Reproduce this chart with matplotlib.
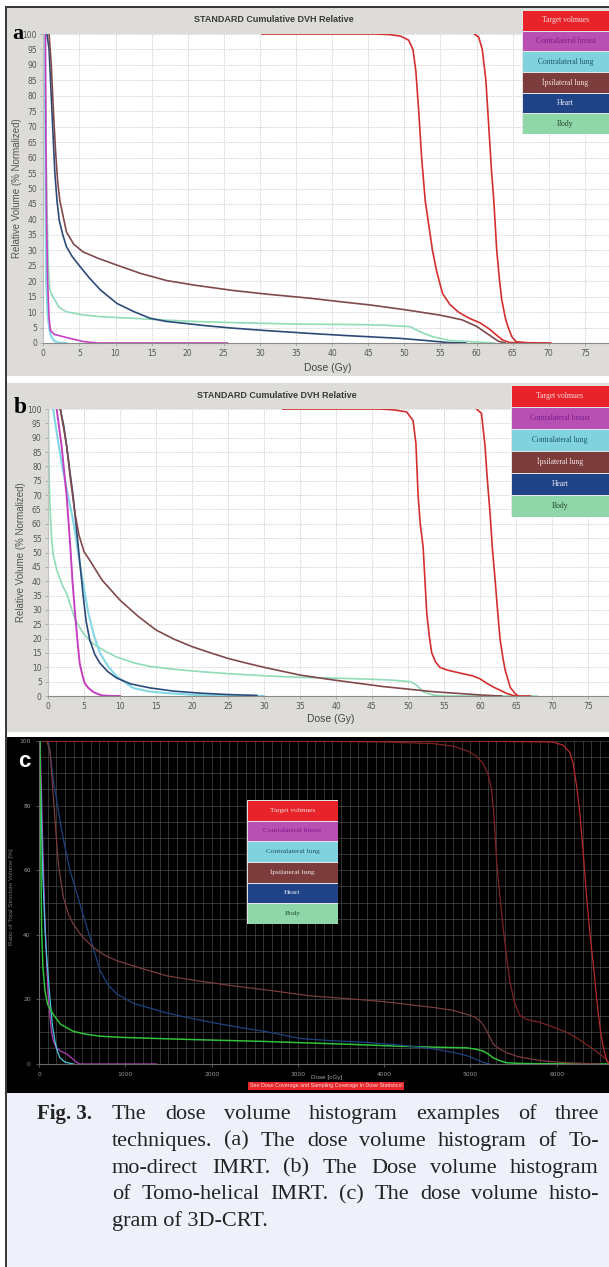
import matplotlib
matplotlib.use("Agg")
import matplotlib.pyplot as plt
import numpy as np
from matplotlib.patches import Rectangle

W, H = 609, 1267

# ---- legend ----
legend_labels = ["Target volmues", "Contralateral breast", "Contralateral lung",
                 "İpsilateral lung", "Heart", "Body"]
legend_bg = ["#e8232a", "#b84fb2", "#80d3de", "#7c3c3c", "#1f4386", "#8fd6a9"]
legend_fg = ["#f4dede", "#7a1d8a", "#1b5865", "#f2e4e4", "#eef0f8", "#264a2c"]

# ---- panel a: Tomo-direct IMRT (Gy, %) ----
a_target1_x = [30.3, 40, 46, 48, 49.5, 50.6, 51.2, 51.6, 52.0, 52.4, 52.9, 53.4, 53.9, 54.5,
               55.3, 56.3, 57.5, 59.0, 60.5, 61.8, 62.8, 63.6, 64.5, 66]
a_target1_y = [100, 100, 100, 99.8, 99.3, 98, 95, 88, 75, 60, 46, 38, 30, 23,
               16, 12.5, 10, 8, 6.5, 4.5, 2.5, 1, 0.2, 0]
a_target2_x = [59.7, 60.3, 60.8, 61.3, 61.7, 62.1, 62.4, 62.8, 63.2, 63.5, 64.0, 64.4,
               64.9, 65.5, 67, 70.3]
a_target2_y = [100, 99, 95, 85, 70, 55, 46, 30, 20, 14, 8, 5, 2, 0.4, 0.1, 0]
a_breast_x = [0.3, 0.35, 0.45, 0.6, 0.8, 1.0, 1.5, 2.5, 3.5, 4.6, 5.5, 6.5, 7.6, 25.5]
a_breast_y = [100, 70, 40, 20, 8, 4, 2.8, 2.2, 1.6, 1.0, 0.5, 0.2, 0, 0]
a_clung_x = [0.2, 0.25, 0.3, 0.4, 0.6, 0.85, 1.1, 1.6, 2.2, 3.2]
a_clung_y = [100, 80, 50, 20, 9, 4.2, 2, 0.5, 0.1, 0]
a_ilung_x = [0.8, 1.1, 1.4, 1.7, 2.0, 2.3, 3.2, 4.2, 5.5, 7.5, 10.2, 13.5, 17.1, 21, 26.3,
             31, 36.9, 41, 45.3, 50, 55, 58, 60, 61, 62, 63, 64]
a_ilung_y = [100, 90, 75, 62, 52, 46, 36, 32, 29.5, 27.5, 25.2, 22.5, 20.2, 18.7, 17.0,
             15.8, 14.5, 13.4, 12.3, 10.8, 9.0, 7.5, 5.4, 3.8, 2.2, 0.6, 0]
a_heart_x = [0.5, 0.8, 1.0, 1.3, 1.6, 1.9, 2.2, 2.7, 3.2, 4.0, 5.1, 6.4, 7.9, 10.2, 12.5,
             14.8, 17, 19.4, 22.5, 26.3, 31, 36.9, 42, 49.4, 53, 56.3, 58.5]
a_heart_y = [100, 95, 85, 70, 55, 46, 39.8, 35, 31.2, 28, 24.7, 21, 17.2, 12.8, 10.2,
             8.0, 7.0, 6.4, 5.6, 4.8, 4.0, 3.1, 2.4, 1.5, 0.8, 0.1, 0]
a_body_x = [0.2, 0.3, 0.5, 0.7, 0.9, 1.2, 1.6, 2.2, 3.2, 5.5, 8, 12.4, 17, 21.7, 28, 35.6,
            42, 47, 50.8, 51.7, 52.8, 54, 56.3, 60.9, 62.5]
a_body_y = [100, 80, 45, 25, 17.2, 15.5, 13.9, 11.5, 10.1, 9.1, 8.5, 8.0, 7.4, 6.9, 6.5, 6.1,
            6.0, 5.8, 5.3, 4.2, 3.0, 2.0, 0.8, 0.2, 0]

# ---- panel b: Tomo-helical IMRT (Gy, %) ----
b_target1_x = [32.6, 40, 46.1, 48, 49.8, 50.7, 51.1, 51.4, 51.7, 52.1, 52.6, 53.0, 53.3, 53.8,
               54.4, 55.5, 57.2, 59, 60, 60.9, 61.8, 62.8, 63.8, 64.6, 65]
b_target1_y = [100, 100, 100, 99.7, 99, 96, 88, 70, 60, 52, 29, 20, 15, 12,
               10, 9, 8, 7, 6, 4.5, 3.2, 2, 0.8, 0.2, 0]
b_target2_x = [59.5, 60.2, 60.7, 61.0, 61.4, 61.7, 62.1, 62.5, 62.8, 63.2, 63.5, 64.2, 64.9,
               65.3, 67]
b_target2_y = [100, 98.5, 87, 76, 63.6, 52, 40.4, 28, 19.5, 13, 9, 3, 0.8, 0, 0]
b_breast_x = [1.2, 1.9, 2.6, 3.1, 3.4, 3.75, 4.1, 4.4, 4.8, 5.1, 5.6, 6.3, 7.0, 7.6, 8.5, 10]
b_breast_y = [100, 86.9, 69.4, 52, 40, 28.9, 19, 11.5, 7, 4.5, 2.8, 1.4, 0.6, 0.2, 0.05, 0]
b_clung_x = [0.7, 1.2, 1.9, 2.6, 3.3, 3.9, 4.4, 5.0, 5.6, 6.4, 7.2, 8.3, 9.5, 11.8, 14, 16.5,
             21, 26, 30]
b_clung_y = [100, 92, 81, 72, 63.6, 55, 46.2, 37.5, 28.9, 21, 15, 10.5, 6.9, 2.8, 1.6, 1.0,
             0.3, 0.1, 0]
b_ilung_x = [1.7, 2.2, 2.6, 3.1, 3.75, 4.3, 5.0, 6.0, 7.5, 10, 12.5, 15, 17.5, 20, 22.5, 25,
             27.5, 30, 35, 39.6, 46.5, 53.5, 60.4, 63]
b_ilung_y = [100, 93, 86.9, 76, 63.6, 56, 50.3, 46.5, 40.4, 33.4, 27.8, 23, 19.8, 17.2, 15.1,
             13.1, 11.5, 10.0, 7.3, 5.6, 3.3, 1.5, 0.3, 0]
b_heart_x = [1.7, 2.2, 2.6, 3.0, 3.5, 4.2, 4.9, 5.3, 5.8, 6.5, 7.2, 8.3, 9.5, 11.5, 14.2,
             17.5, 21.1, 25, 29]
b_heart_y = [100, 94, 86.9, 79, 69.4, 52, 34.6, 26, 19.5, 14.5, 11.5, 8.5, 6.3, 4.2, 2.8,
             1.7, 1.0, 0.5, 0.2]
b_body_x = [0.05, 0.1, 0.2, 0.35, 0.5, 0.7, 1.2, 2.0, 2.6, 3.2, 3.8, 5.0, 6.2, 7.8, 9.5, 12,
            14.2, 17.5, 21.1, 25.5, 30.4, 35, 40, 44.3, 48, 50.3, 51.2, 52.1, 53.5, 55.7, 67.9]
b_body_y = [100, 85, 72, 62, 55, 49.6, 44, 38.5, 35.7, 31, 26.4, 21.5, 18.3, 15.8, 13.6, 11.5,
            10.3, 9.3, 8.5, 7.7, 7.0, 6.5, 6.2, 5.9, 5.5, 5.0, 3.8, 1.5, 0.3, 0, 0]

# ---- panel c: 3D-CRT (cGy, %) ----
c_target1_x = [50, 1000, 2000, 3000, 4000, 4566, 4800, 4956, 5060, 5146, 5200, 5245, 5275,
               5303, 5340, 5380, 5420, 5458, 5510, 5574, 5650, 5805, 5950, 6114, 6220, 6307,
               6400, 6500, 6560, 6600]
c_target1_y = [100, 100, 100, 100, 99.7, 99.2, 98.4, 97, 95.5, 93, 90, 85, 76,
               62.5, 52, 41.8, 33, 25.3, 19, 15, 13.8, 12.9, 11.5, 9.8, 8.3, 6.7,
               5, 3.1, 1.8, 0.5]
c_target2_x = [50, 1000, 3000, 5000, 5956, 6074, 6150, 6190, 6230, 6268, 6310, 6346, 6385,
               6423, 6455, 6481, 6510, 6539, 6578, 6600]
c_target2_y = [100, 100, 100, 100, 99.7, 98.7, 96.5, 93, 86, 77.4, 64, 51.6, 40,
               31, 22, 15.5, 9.5, 5.2, 1, 0.2]
c_breast_x = [12, 25, 40, 50, 65, 89, 105, 127, 145, 166, 200, 250, 321, 380, 437, 475, 1364]
c_breast_y = [100, 88, 72, 62, 48, 31, 22, 14.5, 10, 7.2, 5, 4, 3.1, 1.8, 0.5, 0, 0]
c_clung_x = [4, 20, 31, 45, 60, 70, 90, 110, 127, 155, 185, 215, 243, 300, 397]
c_clung_y = [100, 85, 72, 58, 48, 41, 33, 26, 20.4, 12, 7, 3.8, 1.9, 0.6, 0]
c_ilung_x = [89, 127, 166, 195, 224, 282, 340, 397, 500, 629, 760, 900, 1200, 1480, 1850,
             2251, 2700, 3140, 3600, 4000, 4570, 4800, 4956, 5050, 5110, 5150, 5188, 5230,
             5265, 5340, 5419, 5550, 5728, 5900, 6114, 6300, 6500]
c_ilung_y = [100, 97, 82.6, 72, 61.9, 51.6, 46.5, 43.3, 39.5, 36.1, 33.7, 32, 29.5, 27.3, 25.7,
             24.2, 22.7, 21.1, 20.2, 19.3, 17.5, 16.6, 15.4, 14.5, 13.3, 12, 10.2, 8,
             6.1, 4.6, 3.5, 2.3, 1.4, 0.8, 0.4, 0.2, 0]
c_heart_x = [108, 135, 166, 215, 263, 310, 359, 420, 475, 530, 591, 650, 707, 800, 900, 1093,
             1300, 1480, 1750, 2059, 2350, 2638, 3024, 3400, 3797, 4200, 4570, 4800, 4956,
             5050, 5146, 5223]
c_heart_y = [100, 95, 87.8, 80, 72.3, 66, 59.9, 54.5, 49.5, 44.5, 39.2, 34, 28.9, 24.5, 21.7,
             18.8, 17.2, 15.8, 14.2, 12.6, 11.2, 10.0, 7.9, 7.2, 6.7, 5.8, 4.7, 3.6, 2.6,
             1.6, 0.5, 0]
c_body_x = [12, 19, 25, 31, 45, 70, 100, 166, 250, 397, 550, 707, 1000, 1480, 2000, 2600,
            3140, 3600, 4183, 4600, 4956, 5060, 5148, 5210, 5265, 5340, 5419, 5550, 5728, 6600]
c_body_y = [100, 72, 55, 41, 30, 22.5, 18.5, 15.3, 12.3, 10.1, 9.2, 8.6, 8.2, 7.8, 7.4, 7.0,
            6.5, 6.1, 5.5, 5.2, 5.0, 4.6, 4.0, 3.0, 1.9, 1.0, 0.4, 0.2, 0.1, 0]

caption_lines = ["The dose volume histogram examples of three",
                 "techniques. (a) The dose volume histogram of To-",
                 "mo-direct IMRT. (b) The Dose volume histogram",
                 "of Tomo-helical IMRT. (c) The dose volume histo-",
                 "gram of 3D-CRT."]

SERIF = "Liberation Serif"
SANS = "Liberation Sans"

fig = plt.figure(figsize=(W / 100, H / 100), dpi=100)


def box(x0, y0, x1, y1):
    return [x0 / W, 1 - y1 / H, (x1 - x0) / W, (y1 - y0) / H]


def rect(x0, y0, x1, y1, color):
    fig.add_artist(Rectangle((x0 / W, 1 - y1 / H), (x1 - x0) / W, (y1 - y0) / H,
                             transform=fig.transFigure, color=color, lw=0, zorder=-5))


def ftext(x, y, s, **kw):
    return fig.text(x / W, 1 - y / H, s, **kw)


def legend_box(r, fs):
    lax = fig.add_axes(box(*r))
    n = len(legend_labels)
    lax.barh(np.arange(n), 1, height=1, color=legend_bg, edgecolor="#e6e6e6", linewidth=0.7)
    for i, (lab, fc) in enumerate(zip(legend_labels, legend_fg)):
        lax.text(0.5, i, lab, ha="center", va="center", color=fc, fontsize=fs, family=SERIF)
    lax.set_xlim(0, 1)
    lax.set_ylim(n - 0.5, -0.5)
    lax.axis("off")


def dvh_axes(r, xmax):
    ax = fig.add_axes(box(*r))
    ax.set_facecolor("white")
    ax.set_xlim(0, xmax)
    ax.set_ylim(0, 100)
    ax.set_xticks(np.arange(0, 80, 5))
    ax.set_yticks(np.arange(0, 101, 5))
    ax.grid(True, color="#c8c8c8", linestyle=(0, (1.5, 1.5)), linewidth=0.6)
    ax.tick_params(colors="#999999", labelcolor="#555555", labelsize=5.5, length=2,
                   width=0.5, pad=2.5)
    for s in ["top", "right"]:
        ax.spines[s].set_visible(False)
    ax.spines["bottom"].set_color("#8a8a8a")
    ax.spines["left"].set_color("#c0c0c0")
    ax.set_axisbelow(True)
    return ax


# backgrounds and frame
rect(7, 8, 609, 376, "#dedcd9")
rect(7, 383, 609, 732, "#dedcd9")
rect(7, 737, 609, 1093, "black")
rect(7, 1093, 609, 1267, "#eef1f9")
rect(5, 6, 7, 1267, "#3a3a3a")
rect(5, 6, 609, 8, "#3a3a3a")

cols_ab = {"target": "#d42f2f", "breast": "#c53fc0", "clung": "#82d8e4",
           "ilung": "#80494b", "heart": "#2b4a78", "body": "#90dcb6"}

# ---------- panel a ----------
axa = dvh_axes((43.3, 34, 609, 343), (609 - 43.3) / 7.22)
lw = 1.2
axa.plot(a_body_x, a_body_y, color=cols_ab["body"], lw=lw)
axa.plot(a_clung_x, a_clung_y, color=cols_ab["clung"], lw=lw + 0.3)
axa.plot(a_breast_x, a_breast_y, color=cols_ab["breast"], lw=lw)
axa.plot(a_heart_x, a_heart_y, color=cols_ab["heart"], lw=lw)
axa.plot(a_ilung_x, a_ilung_y, color=cols_ab["ilung"], lw=lw)
axa.plot(a_target1_x, a_target1_y, color=cols_ab["target"], lw=lw)
axa.plot(a_target2_x, a_target2_y, color=cols_ab["target"], lw=lw)
ftext(274, 20, "STANDARD Cumulative DVH Relative", ha="center", va="center",
      fontsize=6.5, fontweight="bold", color="#3a3a3a", family=SANS)
ftext(328, 368, "Dose (Gy)", ha="center", va="center", fontsize=7.5, color="#444444", family=SANS)
ftext(17, 188, "Relative Volume (% Normalized)", ha="center", va="center", rotation=90,
      fontsize=7, color="#555555", family=SANS)
ftext(12, 39, "a", ha="left", va="baseline", fontsize=16, fontweight="bold", family=SERIF)
legend_box((522, 10, 609, 134), 5.5)

# ---------- panel b ----------
axb = dvh_axes((48, 409, 609, 696), (609 - 48) / 7.2)
axb.plot(b_body_x, b_body_y, color=cols_ab["body"], lw=lw)
axb.plot(b_clung_x, b_clung_y, color=cols_ab["clung"], lw=lw + 0.3)
axb.plot(b_heart_x, b_heart_y, color=cols_ab["heart"], lw=lw)
axb.plot(b_ilung_x, b_ilung_y, color=cols_ab["ilung"], lw=lw)
axb.plot(b_breast_x, b_breast_y, color=cols_ab["breast"], lw=lw + 0.2)
axb.plot(b_target1_x, b_target1_y, color=cols_ab["target"], lw=lw)
axb.plot(b_target2_x, b_target2_y, color=cols_ab["target"], lw=lw)
ftext(277, 395, "STANDARD Cumulative DVH Relative", ha="center", va="center",
      fontsize=6.5, fontweight="bold", color="#3a3a3a", family=SANS)
ftext(331, 719, "Dose (Gy)", ha="center", va="center", fontsize=7.5, color="#444444", family=SANS)
ftext(21, 552, "Relative Volume (% Normalized)", ha="center", va="center", rotation=90,
      fontsize=7, color="#555555", family=SANS)
ftext(14, 413, "b", ha="left", va="baseline", fontsize=17, fontweight="bold", family=SERIF)
legend_box((511, 385, 609, 517), 5.5)

# ---------- panel c ----------
axc = fig.add_axes(box(39, 741, 609, 1064))
axc.set_facecolor("black")
axc.set_xlim(0, 6605)
axc.set_ylim(0, 100)
axc.set_xticks(np.arange(0, 6001, 1000))
axc.set_yticks(np.arange(0, 101, 20))
axc.set_xticks(np.arange(0, 6601, 100), minor=True)
axc.set_yticks(np.arange(0, 101, 5), minor=True)
axc.grid(True, which="both", color="#474747", linewidth=0.5)
axc.tick_params(which="both", colors="#777777", labelcolor="#9a9a9a", labelsize=4.3,
                length=2, width=0.5, pad=4)
axc.tick_params(which="minor", length=0)
for s in ["top", "right"]:
    axc.spines[s].set_visible(False)
for s in ["bottom", "left"]:
    axc.spines[s].set_color("#6a6a6a")
axc.set_axisbelow(True)
lwc = 0.9
axc.plot(c_breast_x, c_breast_y, color="#b33fba", lw=lwc)
axc.plot(c_clung_x, c_clung_y, color="#48c8d8", lw=lwc)
axc.plot(c_body_x, c_body_y, color="#30c23a", lw=lwc + 0.2)
axc.plot(c_heart_x, c_heart_y, color="#1e4280", lw=lwc)
axc.plot(c_ilung_x, c_ilung_y, color="#7a3c3c", lw=lwc)
axc.plot(c_target1_x, c_target1_y, color="#7e2222", lw=lwc)
axc.plot(c_target2_x, c_target2_y, color="#b82a2a", lw=lwc)
ftext(12, 897, "Ratio of Total Structure Volume [%]", ha="center", va="center", rotation=90,
      fontsize=4.5, color="#777777", family=SANS)
ftext(327, 1077, "Dose [cGy]", ha="center", va="center", fontsize=4.5, color="#aaaaaa", family=SANS)
ftext(326, 1086, "See Dose Coverage and Sampling Coverage in Dose Statistics!", ha="center",
      va="center", fontsize=3.9, color="#ffe0e0", family=SANS,
      bbox=dict(boxstyle="square,pad=0.25", fc="#e8262b", ec="none"))
ftext(18, 767, "c", ha="left", va="baseline", fontsize=16, fontweight="bold", color="white",
      family=SANS)
legend_box((247, 800, 338, 924), 5.3)

# ---------- caption ----------
fs_cap = 16
ftext(37, 1119, "Fig. 3.", ha="left", va="baseline", fontsize=15, fontweight="bold",
      family=SERIF, color="#222222")
renderer = fig.canvas.get_renderer()
x_left, x_right = 112, 599
for i, line in enumerate(caption_lines):
    yb = 1119 + i * 26.8
    if i == len(caption_lines) - 1:
        ftext(x_left, yb, line, ha="left", va="baseline", fontsize=fs_cap, family=SERIF,
              color="#222222")
        continue
    words = line.split()
    widths = []
    for w in words:
        t = ftext(0, 0, w, fontsize=fs_cap, family=SERIF)
        widths.append(t.get_window_extent(renderer).width)
        t.remove()
    gap = (x_right - x_left - sum(widths)) / (len(words) - 1)
    x = x_left
    for w, wd in zip(words, widths):
        ftext(x, yb, w, ha="left", va="baseline", fontsize=fs_cap, family=SERIF, color="#222222")
        x += wd + gap

fig.savefig("out.png", dpi=100)
